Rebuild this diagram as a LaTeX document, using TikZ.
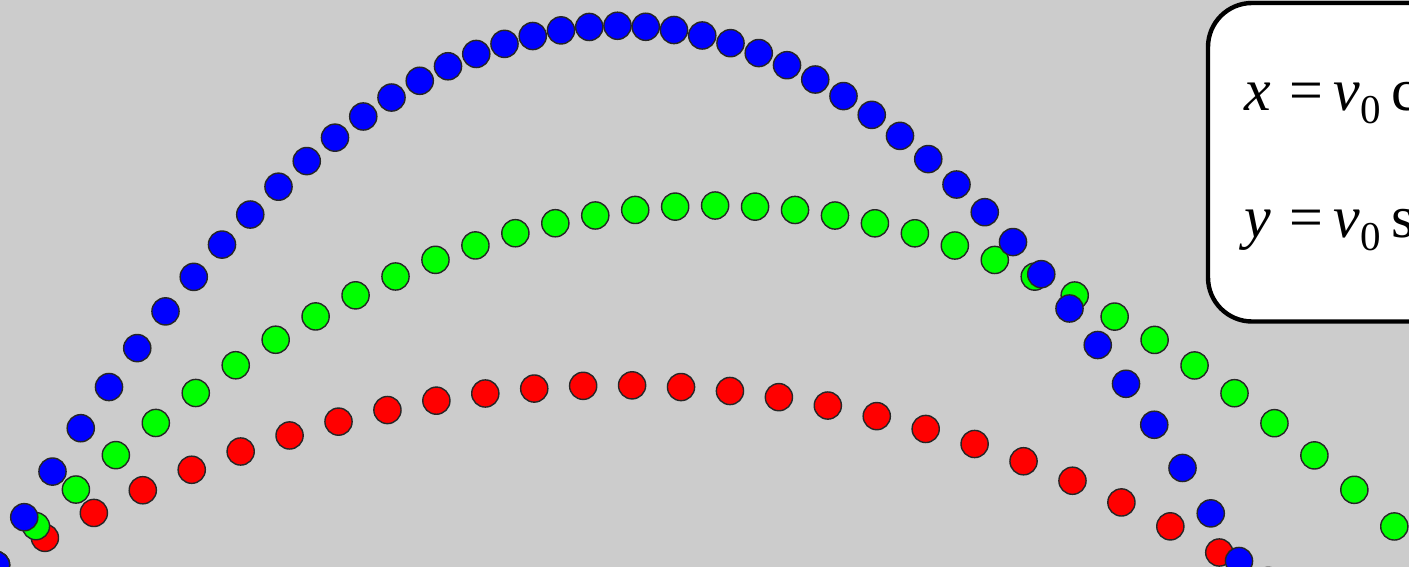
\documentclass[tikz,border=0pt]{standalone}
\usepackage{fontspec}
\newfontfamily\eqfont{Liberation Serif}
\definecolor{canvas}{RGB}{204,204,204}
\definecolor{ballred}{RGB}{255,0,0}
\definecolor{ballgreen}{RGB}{0,255,0}
\definecolor{ballblue}{RGB}{0,0,255}
\newcommand{\veq}[2]{{\itshape #1}\kern9pt=\kern5.5pt{\itshape v}\lower6.5pt\hbox{\fontsize{20.5}{20.5}\selectfont 0}\kern5pt #2}
\tikzset{
  ball/.style={draw=black!85, line width=0.7pt},
  panel/.style={draw=black, fill=white, line width=2.2pt, rounded corners=22pt},
  eqtext/.style={anchor=base west, inner sep=0pt, font=\eqfont\fontsize{30}{35}\selectfont}
}

\begin{document}
\begin{tikzpicture}[x=0.5pt, y=-0.5pt]
        \useasboundingbox (0,0) rectangle (1409,567);
        \clip (0,0) rectangle (1409,567);
        \fill[canvas] (0,0) rectangle (1409,567);
        \foreach \ang/\col in {30/ballred, 45/ballgreen, 60/ballblue}
          \foreach \t in {0,...,45}
            \filldraw[ball, fill=\col] ({-4+\t*56.5*cos(\ang)},{565-\t*56.5*sin(\ang)+1.11*\t*\t}) circle (13.6);
        \draw[panel] (1208,3) rectangle (1500,321.5);
        \node[eqtext] (eqx) at (1244,111) {\veq{x}{c}};
        \node[eqtext] (eqy) at (1244,237) {\veq{y}{s}};
      \end{tikzpicture}
\end{document}
